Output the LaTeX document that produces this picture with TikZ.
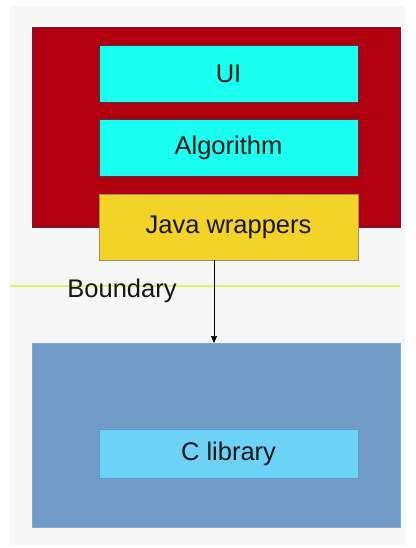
\documentclass[tikz,border=0pt]{standalone}
\usepackage{fontspec}
\setmainfont{Liberation Sans}
\usetikzlibrary{arrows.meta}
\definecolor{bggray}{HTML}{F7F7F7}
\definecolor{redfill}{HTML}{B00010}
\definecolor{redline}{HTML}{6A1850}
\definecolor{cyanfill}{HTML}{19FFF0}
\definecolor{cyanline}{HTML}{5A3040}
\definecolor{yellowfill}{HTML}{F3D327}
\definecolor{yellowline}{HTML}{A09060}
\definecolor{bluefill}{HTML}{729CC8}
\definecolor{blueline}{HTML}{86A8D0}
\definecolor{libfill}{HTML}{6CD3F6}
\definecolor{libline}{HTML}{5A9AC8}
\definecolor{boundline}{HTML}{DDF56A}
\definecolor{txt}{HTML}{151515}
\begin{document}
\begin{tikzpicture}[x=1pt,y=-1pt,
  box/.style={draw, line width=0.8pt, anchor=north west, inner sep=0pt, outer sep=0pt,
    text=txt, font=\fontsize{25.5}{29}\selectfont},
  container/.style={box, line width=0.6pt}]
\useasboundingbox (0,0) rectangle (415,548);
\fill[white] (0,0) rectangle (415,548);
\fill[bggray] (10,6) rectangle (405,545);
% red container
\node[container, fill=redfill, draw=redline, minimum width=368pt, minimum height=200pt] (red) at (32,27) {};
% blue container
\node[container, fill=bluefill, draw=blueline, minimum width=368pt, minimum height=184pt] (blue) at (32,343) {};
% inner boxes
\node[box, fill=cyanfill, draw=cyanline, minimum width=259pt, minimum height=57pt] (ui) at (99,45) {UI};
\node[box, fill=cyanfill, draw=cyanline, minimum width=259pt, minimum height=57pt] (alg) at (99,119) {Algorithm};
\node[box, fill=yellowfill, draw=yellowline, minimum width=259pt, minimum height=66pt] (jw) at (99,194) {Java wrappers};
\node[box, fill=libfill, draw=libline, minimum width=259pt, minimum height=49pt] (clib) at (99,429) {C library};
% boundary
\coordinate (bl) at (10,286);
\coordinate (br) at (400,286);
\draw[boundline, line width=1.6pt] (bl) -- (br);
\node[text=txt, font=\fontsize{25.5}{29}\selectfont, anchor=base, inner sep=0pt] (bnd) at (122,297) {Boundary};
% arrow
\coordinate (ax) at (214,0);
\draw[line width=0.7pt, black, -{Triangle[length=7pt,width=6pt]}] (jw.south -| ax) -- (blue.north -| ax);
\end{tikzpicture}
\end{document}
